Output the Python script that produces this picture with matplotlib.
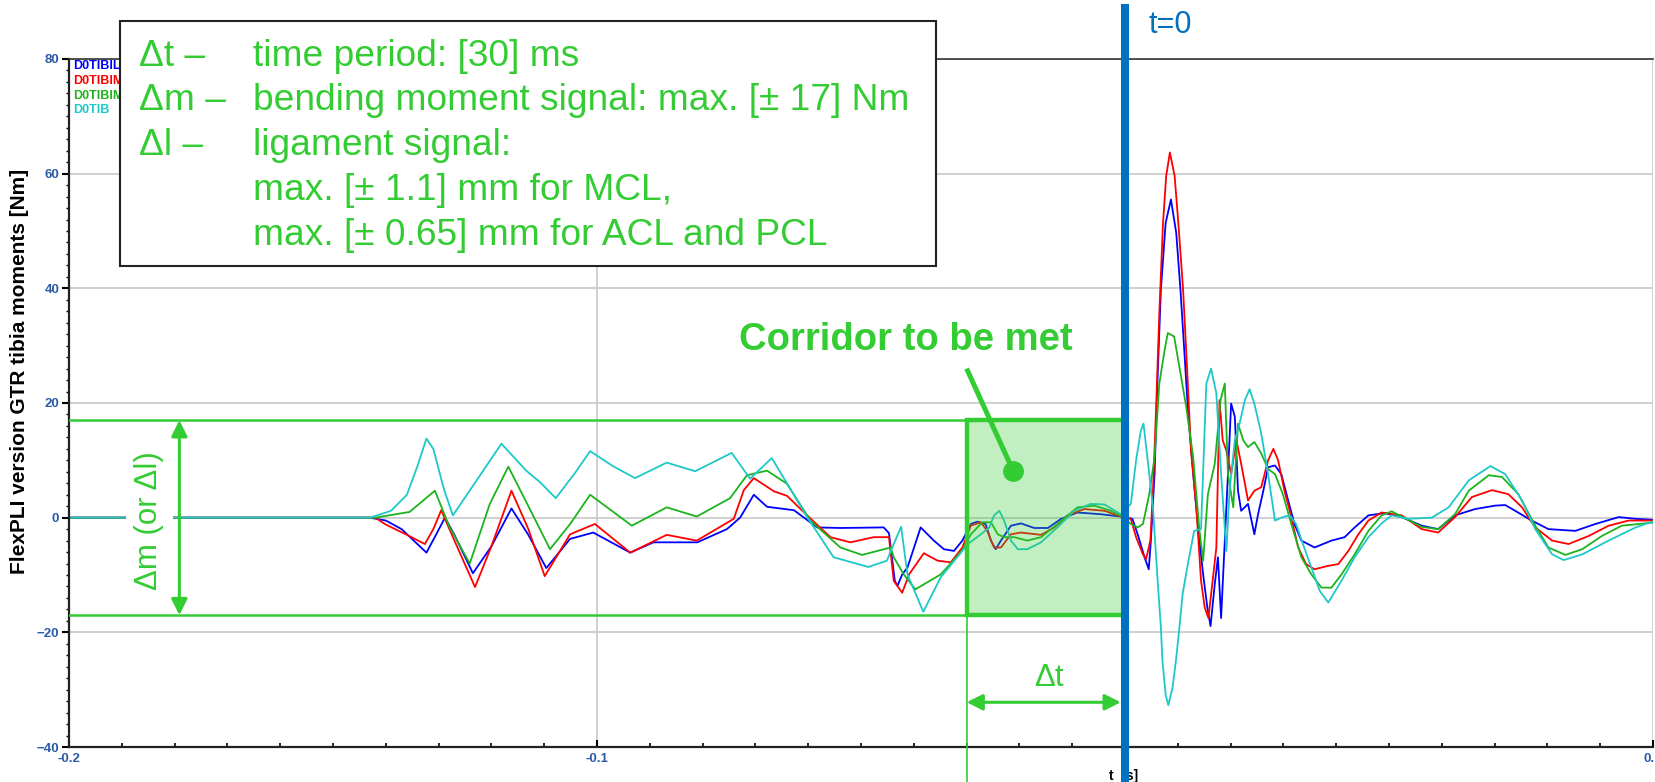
import matplotlib
matplotlib.use('Agg')
import matplotlib.pyplot as plt
from matplotlib.patches import Rectangle
from matplotlib.ticker import MultipleLocator

plt.rcParams['font.family'] = ['Liberation Sans', 'DejaVu Sans']

# tibia moment traces (t in s, moment in Nm)
t_blue = [-0.2, -0.143, -0.140, -0.137, -0.1323, -0.1305, -0.1288, -0.127, -0.1235, -0.120,
          -0.1162, -0.113, -0.1096, -0.1051, -0.1007, -0.0937, -0.0893, -0.081, -0.0754, -0.0729,
          -0.0703, -0.0678, -0.0627, -0.0583, -0.0539, -0.0457, -0.0447, -0.0436, -0.0431, -0.0422,
          -0.0412, -0.0387, -0.0362, -0.0343, -0.0324, -0.0308, -0.0292, -0.0280, -0.0264, -0.0254,
          -0.0245, -0.0235, -0.0216, -0.0197, -0.0172, -0.0146, -0.0121, -0.0090, -0.0046, -0.0008,
          0.0014, 0.0024, 0.0037, 0.0045, 0.0049, 0.0056, 0.0062, 0.0068, 0.0077, 0.0087,
          0.0097, 0.0105, 0.0113, 0.0120, 0.0132, 0.0141, 0.0148, 0.0156, 0.0162, 0.0170,
          0.0176, 0.0182, 0.0189, 0.0195, 0.0201, 0.0208, 0.0214, 0.0220, 0.0233, 0.0245,
          0.0252, 0.0262, 0.0271, 0.0284, 0.0296, 0.0309, 0.0321, 0.0334, 0.0359, 0.0391,
          0.0416, 0.0435, 0.0461, 0.0492, 0.0524, 0.0562, 0.0593, 0.0625, 0.0663, 0.0701,
          0.0720, 0.0739, 0.0770, 0.0802, 0.0853, 0.0891, 0.0935, 0.0967, 0.1005]
m_blue = [0, 0, -0.5, -2, -6.1, -3, 0, -3, -9.7, -5,
          1.6, -3, -8.8, -3.7, -2.6, -6.1, -4.3, -4.3, -2.0, 0,
          4.0, 1.9, 1.3, -1.7, -1.8, -1.7, -2.7, -11, -11.9, -9.9,
          -8.7, -1.7, -4.0, -5.5, -5.8, -4.0, -1.1, -0.7, -1.1, -4.0,
          -5.5, -4.0, -1.4, -1.0, -1.8, -1.8, -0.2, 0.9, 0.6, 0.2,
          -0.2, -2.9, -6.9, -9.0, -4.0, 7.6, 25.2, 39.8, 51.4, 55.5,
          49.7, 39.8, 28.1, 17.6, 4.7, -4.0, -9.9, -15.7, -18.9, -11.6,
          -6.9, -17.5, -4.0, 7.6, 19.9, 17.6, 4.7, 1.2, 2.4, -2.9,
          0.6, 4.7, 8.8, 9.1, 7.6, 3.0, -1.1, -4.0, -5.2, -4.0,
          -3.4, -1.7, 0.4, 0.8, 0.1, -1.4, -2.0, 0.4, 1.5, 2.1,
          2.2, 1.2, -0.5, -2.0, -2.3, -1.1, 0.1, -0.2, -0.4]

t_red = [-0.2, -0.142, -0.140, -0.136, -0.1326, -0.131, -0.1295, -0.127, -0.1231, -0.120,
         -0.1162, -0.113, -0.1099, -0.1051, -0.1004, -0.0937, -0.0868, -0.0811, -0.0741, -0.0722,
         -0.0703, -0.0665, -0.0640, -0.0602, -0.0558, -0.0520, -0.0476, -0.0447, -0.0438, -0.0422,
         -0.0409, -0.0381, -0.0355, -0.0330, -0.0308, -0.0292, -0.0273, -0.0261, -0.0248, -0.0235,
         -0.0216, -0.0197, -0.0159, -0.0134, -0.0109, -0.0077, -0.0039, -0.0008, 0.0011, 0.0021,
         0.0034, 0.0040, 0.0048, 0.0053, 0.0059, 0.0065, 0.0072, 0.0078, 0.0085, 0.0094,
         0.0101, 0.0110, 0.0118, 0.0125, 0.0135, 0.0144, 0.0151, 0.0158, 0.0166, 0.0173,
         0.0179, 0.0185, 0.0192, 0.0201, 0.0211, 0.0220, 0.0233, 0.0245, 0.0258, 0.0271,
         0.0281, 0.0290, 0.0302, 0.0315, 0.0328, 0.0343, 0.0359, 0.0385, 0.0404, 0.0423,
         0.0442, 0.0461, 0.0486, 0.0524, 0.0562, 0.0593, 0.0625, 0.0657, 0.0695, 0.0726,
         0.0752, 0.0777, 0.0809, 0.0840, 0.0878, 0.0916, 0.0954, 0.1005]
m_red = [0, 0, -1.2, -3, -4.6, -2, 1.3, -4, -12.1, -5,
         4.7, -2, -10.2, -2.9, -1.1, -6.1, -3.0, -4.0, -0.2, 4.8,
         6.9, 4.6, 3.8, 0.4, -3.4, -4.3, -3.4, -3.4, -11.0, -13.1,
         -9.9, -6.2, -7.5, -7.8, -5.2, -1.4, -0.8, -2.3, -5.2, -5.2,
         -2.9, -2.6, -3.0, -1.7, 0.4, 1.5, 1.2, 0.2, -0.2, -3.4,
         -6.4, -7.2, -4.0, 4.7, 19.3, 35.7, 51.4, 59.6, 63.7, 59.6,
         51.4, 39.8, 25.2, 11.7, 1.8, -11.0, -15.7, -17.5, -11.0, -5.2,
         20.5, 13.5, 11.7, 7.6, 13.5, 9.4, 3.0, 4.7, 5.3, 10.0,
         12.0, 10.0, 4.7, 0.1, -5.2, -8.1, -9.0, -8.4, -8.1, -5.8,
         -2.9, -0.5, 0.9, 0.4, -2.0, -2.6, 0.1, 3.6, 4.8, 4.1,
         1.8, -1.7, -4.0, -4.6, -3.2, -1.4, -0.5, -0.5]

t_green = [-0.2, -0.142, -0.1355, -0.1307, -0.128, -0.1241, -0.1203, -0.1168, -0.113, -0.1089,
           -0.105, -0.1013, -0.0934, -0.0868, -0.0811, -0.0748, -0.0716, -0.0678, -0.0640, -0.0596,
           -0.0539, -0.0498, -0.0444, -0.0438, -0.0419, -0.0397, -0.0349, -0.0308, -0.0292, -0.0270,
           -0.0254, -0.0241, -0.0229, -0.0210, -0.0185, -0.0159, -0.0128, -0.0090, -0.0058, -0.0027,
           -0.0005, 0.0011, 0.0024, 0.0034, 0.0046, 0.0056, 0.0065, 0.0075, 0.0081, 0.0093,
           0.0103, 0.0116, 0.0129, 0.0141, 0.0148, 0.0157, 0.0170, 0.0181, 0.0189, 0.0195,
           0.0205, 0.0214, 0.0224, 0.0233, 0.0245, 0.0258, 0.0271, 0.0284, 0.0299, 0.0315,
           0.0334, 0.0353, 0.0372, 0.0391, 0.0410, 0.0435, 0.0461, 0.0486, 0.0505, 0.0562,
           0.0593, 0.0625, 0.0651, 0.0689, 0.0714, 0.0745, 0.0777, 0.0802, 0.0834, 0.0866,
           0.0903, 0.0941, 0.1005]
m_green = [0, 0, 1, 4.7, -1.5, -8.0, 2.4, 8.9, 2.0, -5.5,
           -1, 4.0, -1.4, 1.8, 0.2, 3.4, 7.4, 8.2, 5.9, -0.5,
           -5.2, -6.5, -5.2, -6.9, -9.9, -12.5, -9.9, -5.7, -2.9, -0.8,
           -0.8, -2.9, -3.4, -3.4, -4.0, -3.4, -1.1, 1.8, 2.1, 1.2,
           0.2, -1.1, -1.7, -1.1, 4.1, 10.6, 23.4, 29.2, 32.2, 31.6,
           26.3, 19.3, 10.6, -2.3, -7.5, 4.1, 9.4, 20.5, 23.4, 7.6,
           1.8, 16.4, 13.5, 12.3, 13.2, 11.2, 8.5, 7.6, 4.1, -1.1,
           -6.9, -9.9, -12.2, -12.2, -9.9, -6.4, -2.3, 0.4, 1.1, -1.6,
           -2.0, 0.6, 4.7, 7.4, 7.1, 4.1, -1.4, -5.2, -6.5, -5.5,
           -3.2, -1.4, -0.8]

t_cyan = [-0.2, -0.143, -0.139, -0.136, -0.134, -0.1323, -0.131, -0.129, -0.1273, -0.1228,
          -0.1181, -0.1134, -0.1108, -0.1078, -0.104, -0.1013, -0.097, -0.0928, -0.0868, -0.0814,
          -0.0745, -0.0710, -0.0669, -0.0602, -0.0552, -0.0486, -0.0451, -0.0438, -0.0424, -0.0412,
          -0.0382, -0.0349, -0.0308, -0.0298, -0.0280, -0.0257, -0.0248, -0.0238, -0.0229, -0.0216,
          -0.0203, -0.0185, -0.0159, -0.0128, -0.0096, -0.0065, -0.0039, -0.0008, 0.0011, 0.0021,
          0.0030, 0.0035, 0.0043, 0.0053, 0.0061, 0.0068, 0.0071, 0.0077, 0.0082, 0.0090,
          0.0097, 0.0103, 0.0109, 0.0119, 0.0131, 0.0144, 0.0154, 0.0163, 0.0173, 0.0182,
          0.0192, 0.0198, 0.0208, 0.0217, 0.0227, 0.0236, 0.0245, 0.0258, 0.0271, 0.0284,
          0.0299, 0.0312, 0.0324, 0.0337, 0.0353, 0.0369, 0.0385, 0.0410, 0.0435, 0.0461,
          0.0486, 0.0505, 0.0537, 0.0581, 0.0613, 0.0651, 0.0692, 0.0720, 0.0752, 0.0777,
          0.0809, 0.0831, 0.0866, 0.0916, 0.0967, 0.1005]
m_cyan = [0, 0, 1.2, 4, 9, 13.8, 12, 5, 0.4, 6.5,
          12.9, 8.2, 6.2, 3.4, 8, 11.6, 9, 6.9, 9.6, 8.1,
          11.3, 6.8, 10.4, 0.1, -6.9, -8.6, -7.5, -4.6, -1.6, -9.9,
          -16.4, -10.4, -5.8, -4.6, -3.4, -1.7, 0.4, 1.2, -0.5, -4.0,
          -5.5, -5.5, -4.3, -1.7, 1.2, 2.4, 2.3, 0.6, 2.4, 10.0,
          15.2, 16.4, 10.0, 1.8, -9.9, -19.2, -25.1, -30.9, -32.7, -29.7,
          -24.5, -19.2, -13.4, -8.1, -2.3, -2.0, 23.4, 26.0, 21.7, 7.6,
          -5.8, 4.7, 13.5, 16.4, 20.5, 22.4, 19.9, 14.7, 7.6, -0.5,
          0.1, 0.4, -1.1, -4.6, -8.7, -12.8, -14.8, -11.0, -6.9, -3.4,
          -1.0, 0.4, -0.2, 0, 1.8, 6.5, 9.0, 7.6, 3.0, -2.0,
          -6.4, -7.4, -6.4, -4.0, -1.7, -0.5]

channels = ['D0TIBILE', 'D0TIBIMI', 'D0TIBIMU', 'D0TIB']
colors = ['#0000FF', '#FF0000', '#1DB31D', '#1EC8C8']

corridor_m = 17        # +/- Nm
corridor_t = -0.03     # 30 ms before t=0

box_lines = [('\u0394t \u2013', 'time period: [30] ms'),
             ('\u0394m \u2013', 'bending moment signal: max. [\u00b1 17] Nm'),
             ('\u0394l \u2013', 'ligament signal:'),
             ('', 'max. [\u00b1 1.1] mm for MCL,'),
             ('', 'max. [\u00b1 0.65] mm for ACL and PCL')]

GREEN = '#33CC33'
BLUE = '#0070C0'
W, H = 1655, 782

fig = plt.figure(figsize=(W / 100, H / 100), dpi=100)
ax = fig.add_axes([69 / W, 1 - 747 / H, 1584 / W, 688 / H])

ax.set_xlim(-0.2, 0.1)
ax.set_ylim(-40, 80)
ax.set_xticks([-0.2, -0.1, 0, 0.1])
ax.set_xticklabels(['-0.2', '-0.1', '0', '0.1'])
ax.xaxis.set_minor_locator(MultipleLocator(0.01))
ax.yaxis.set_major_locator(MultipleLocator(20))
ax.yaxis.set_minor_locator(MultipleLocator(2))
ax.tick_params(axis='x', which='major', direction='in', length=5, width=1.5, pad=4)
ax.tick_params(axis='x', which='minor', direction='in', length=3, width=1.2)
ax.tick_params(axis='y', which='major', direction='out', length=5, width=1.5, pad=2)
ax.tick_params(axis='y', which='minor', direction='out', length=2.5, width=1)
for lab in ax.get_xticklabels() + ax.get_yticklabels():
    lab.set_fontweight('bold')
    lab.set_fontsize(9.5)
    lab.set_color('#2B5BA8')
ax.spines['right'].set_visible(False)
for s in ['left', 'bottom']:
    ax.spines[s].set_linewidth(1.6)
    ax.spines[s].set_color('#222222')
ax.spines['top'].set_linewidth(1.2)
ax.spines['top'].set_color('#333333')
ax.set_axisbelow(True)
ax.grid(True, which='major', color='#C8C8C8', lw=1.2)

for t, m, c in zip([t_blue, t_red, t_green, t_cyan], [m_blue, m_red, m_green, m_cyan], colors):
    ax.plot(t, m, color=c, lw=1.3, zorder=2)

for i, (name, c) in enumerate(zip(channels, colors)):
    ax.text(-0.1992, 78.7 - i * 2.55, name, color=c, fontsize=9, fontweight='bold',
            va='center', ha='left')

# corridor
ax.plot([-0.2, 0], [corridor_m, corridor_m], color=GREEN, lw=1.8, zorder=4)
ax.plot([-0.2, 0], [-corridor_m, -corridor_m], color=GREEN, lw=1.8, zorder=4)
ax.add_patch(Rectangle((corridor_t, -corridor_m), -corridor_t, 2 * corridor_m,
                       facecolor=GREEN, alpha=0.3, edgecolor='none', zorder=3))
ax.add_patch(Rectangle((corridor_t, -corridor_m), -corridor_t, 2 * corridor_m,
                       facecolor='none', edgecolor=GREEN, lw=3.2, zorder=4))
ax.plot([corridor_t, corridor_t], [-corridor_m, -50], color=GREEN, lw=1.2, clip_on=False, zorder=4)

# delta m arrow
ax.annotate('', xy=(-0.1791, -corridor_m), xytext=(-0.1791, corridor_m),
            arrowprops=dict(arrowstyle='<|-|>', color=GREEN, lw=2.2, mutation_scale=24,
                            shrinkA=0, shrinkB=0), zorder=6)
ax.text(-0.1848, -0.5, '\u0394m (or \u0394l)', rotation=90, color=GREEN, fontsize=22.5,
        ha='center', va='center', zorder=5,
        bbox=dict(facecolor='white', edgecolor='none', pad=6))

# delta t arrow
ax.annotate('', xy=(-0.0008, -32.2), xytext=(corridor_t, -32.2),
            arrowprops=dict(arrowstyle='<|-|>', color=GREEN, lw=2.2, mutation_scale=24,
                            shrinkA=0, shrinkB=0), zorder=6)
ax.text(-0.0144, -30.6, '\u0394t', color=GREEN, fontsize=22.5, ha='center', va='bottom')

# corridor label with pointer
ax.text(-0.0416, 31, 'Corridor to be met', color=GREEN, fontsize=27.5, fontweight='bold',
        ha='center', va='center', zorder=6)
ax.plot([-0.0300, -0.0212], [26, 8.2], color=GREEN, lw=3.6, solid_capstyle='butt', zorder=6)
ax.plot([-0.0212], [8.2], 'o', color=GREEN, ms=14, zorder=6)

# t = 0 line
ax.plot([0, 0], [-50, 88.9], color=BLUE, lw=5.8, clip_on=False, zorder=10)
ax.text(0.0044, 84.5, 't=0', color=BLUE, fontsize=22, ha='left', va='baseline')

ax.text(1124 / W, 1 - 776 / H, 't  [s]', transform=fig.transFigure, fontsize=10,
        fontweight='bold', ha='center', va='center', zorder=1)
fig.text(20 / W, 1 - 371 / H, 'FlexPLI version GTR tibia moments [Nm]', rotation=90,
         fontsize=15, fontweight='bold', ha='center', va='center')

# description box
fig.add_artist(Rectangle((120 / W, 1 - 266 / H), 816 / W, 245 / H, transform=fig.transFigure,
                         facecolor='white', edgecolor='#222222', lw=1.5, zorder=5))
for i, (key, desc) in enumerate(box_lines):
    yb = 1 - (65.7 + 44.8 * i) / H
    fig.text(139 / W, yb, key, color=GREEN, fontsize=26.7, va='baseline', ha='left', zorder=6)
    fig.text(253 / W, yb, desc, color=GREEN, fontsize=26.7, va='baseline', ha='left', zorder=6)

fig.savefig('out.png', dpi=100)
